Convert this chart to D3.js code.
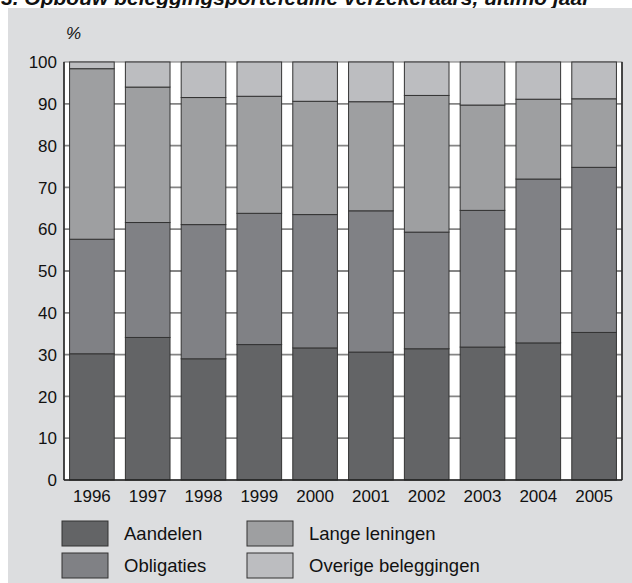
<!DOCTYPE html>
<html>
<head>
<meta charset="utf-8">
<script src="https://cdn.jsdelivr.net/npm/d3@7"></script>
<style>
  body { margin: 0; background: #fff; }
  svg { display: block; font-family: Arial, "Liberation Sans", sans-serif; }
</style>
</head>
<body>
<div id="chart"></div>
<script>
// data
const years = ["1996", "1997", "1998", "1999", "2000", "2001", "2002", "2003", "2004", "2005"];
const aandelen = [30.2, 34.1, 29.0, 32.4, 31.6, 30.6, 31.4, 31.8, 32.8, 35.3];
const obligaties = [27.4, 27.5, 32.1, 31.4, 31.9, 33.8, 27.9, 32.7, 39.2, 39.5];
const langeLeningen = [40.8, 32.4, 30.4, 28.0, 27.1, 26.1, 32.7, 25.2, 19.1, 16.4];
const overige = years.map((y, i) => +(100 - aandelen[i] - obligaties[i] - langeLeningen[i]).toFixed(1));
const yTicks = [0, 10, 20, 30, 40, 50, 60, 70, 80, 90, 100];

const seriesNames = ["Aandelen", "Obligaties", "Lange leningen", "Overige beleggingen"];
const seriesValues = [aandelen, obligaties, langeLeningen, overige];
const colors = ["#636466", "#808185", "#9e9fa1", "#bcbdc0"];

const width = 632, height = 583;
const margin = {left: 64, right: 10, top: 62, bottom: 103};

const svg = d3.select("#chart").append("svg")
    .attr("width", width)
    .attr("height", height);

// title, cut off at the top of the picture
svg.append("text")
    .attr("x", 1).attr("y", 5)
    .style("font-size", "21px")
    .style("font-weight", "bold")
    .style("font-style", "italic")
    .attr("fill", "#111")
    .text("3. Opbouw beleggingsportefeuille verzekeraars, ultimo jaar");

// grey panel
svg.append("rect")
    .attr("x", 8).attr("y", 8)
    .attr("width", width - 8).attr("height", height - 8)
    .attr("fill", "#dcdddf");

const rows = years.map((y, i) => {
    const r = {year: y};
    seriesNames.forEach((s, k) => { r[s] = seriesValues[k][i]; });
    return r;
});
const stacked = d3.stack().keys(seriesNames)(rows);

const x = d3.scaleBand()
    .domain(years)
    .range([margin.left, width - margin.right])
    .paddingInner(0.2)
    .paddingOuter(0.1);

const y = d3.scaleLinear()
    .domain([0, 100])
    .range([height - margin.bottom, margin.top]);

// plot area
svg.append("rect")
    .attr("x", margin.left).attr("y", margin.top)
    .attr("width", width - margin.right - margin.left)
    .attr("height", y(0) - margin.top)
    .attr("fill", "#fff")
    .attr("stroke", "#777")
    .attr("stroke-width", 1);

// gridlines
svg.append("g")
    .selectAll("line")
    .data(yTicks.filter(t => t > 0 && t < 100))
    .enter().append("line")
        .attr("x1", margin.left).attr("x2", width - margin.right)
        .attr("y1", d => y(d)).attr("y2", d => y(d))
        .attr("stroke", "#858585")
        .attr("stroke-width", 1.8);

// bars
const layer = svg.append("g").selectAll("g")
    .data(stacked)
    .enter().append("g")
        .attr("fill", (d, i) => colors[i]);

layer.selectAll("rect")
    .data(d => d)
    .enter().append("rect")
        .attr("x", d => x(d.data.year))
        .attr("y", d => y(d[1]))
        .attr("width", x.bandwidth())
        .attr("height", d => y(d[0]) - y(d[1]))
        .attr("stroke", "#333")
        .attr("stroke-width", 1);

// axis lines
svg.append("line")
    .attr("x1", margin.left).attr("x2", margin.left)
    .attr("y1", margin.top).attr("y2", y(0))
    .attr("stroke", "#222").attr("stroke-width", 1.5);
svg.append("line")
    .attr("x1", width - margin.right).attr("x2", width - margin.right)
    .attr("y1", margin.top).attr("y2", y(0))
    .attr("stroke", "#222").attr("stroke-width", 1.5);
svg.append("line")
    .attr("x1", margin.left).attr("x2", width - margin.right)
    .attr("y1", y(0)).attr("y2", y(0))
    .attr("stroke", "#222").attr("stroke-width", 1.5);

// y labels
svg.append("g")
    .selectAll("text")
    .data(yTicks)
    .enter().append("text")
        .attr("x", 57)
        .attr("y", d => y(d))
        .attr("dy", "0.36em")
        .attr("text-anchor", "end")
        .style("font-size", "17px")
        .attr("fill", "#111")
        .text(d => d);

svg.append("text")
    .attr("x", 66).attr("y", 39)
    .style("font-size", "17px")
    .style("font-style", "italic")
    .attr("fill", "#111")
    .text("%");

// x labels
svg.append("g")
    .selectAll("text")
    .data(years)
    .enter().append("text")
        .attr("x", d => x(d) + x.bandwidth() / 2)
        .attr("y", 502)
        .attr("text-anchor", "middle")
        .style("font-size", "17px")
        .attr("fill", "#111")
        .text(d => d);

// legend, two columns of two
const legendPos = [[62, 521], [62, 553], [247, 521], [247, 553]];
const leg = svg.append("g").selectAll("g")
    .data(seriesNames.map((s, i) => i))
    .enter().append("g")
        .attr("transform", d => `translate(${legendPos[d][0]},${legendPos[d][1]})`);

leg.append("rect")
    .attr("width", 46).attr("height", 25)
    .attr("fill", d => colors[d])
    .attr("stroke", "#333")
    .attr("stroke-width", 1);

leg.append("text")
    .attr("x", 62).attr("y", 19)
    .style("font-size", "18.5px")
    .attr("fill", "#111")
    .text(d => seriesNames[d]);
</script>
</body>
</html>
